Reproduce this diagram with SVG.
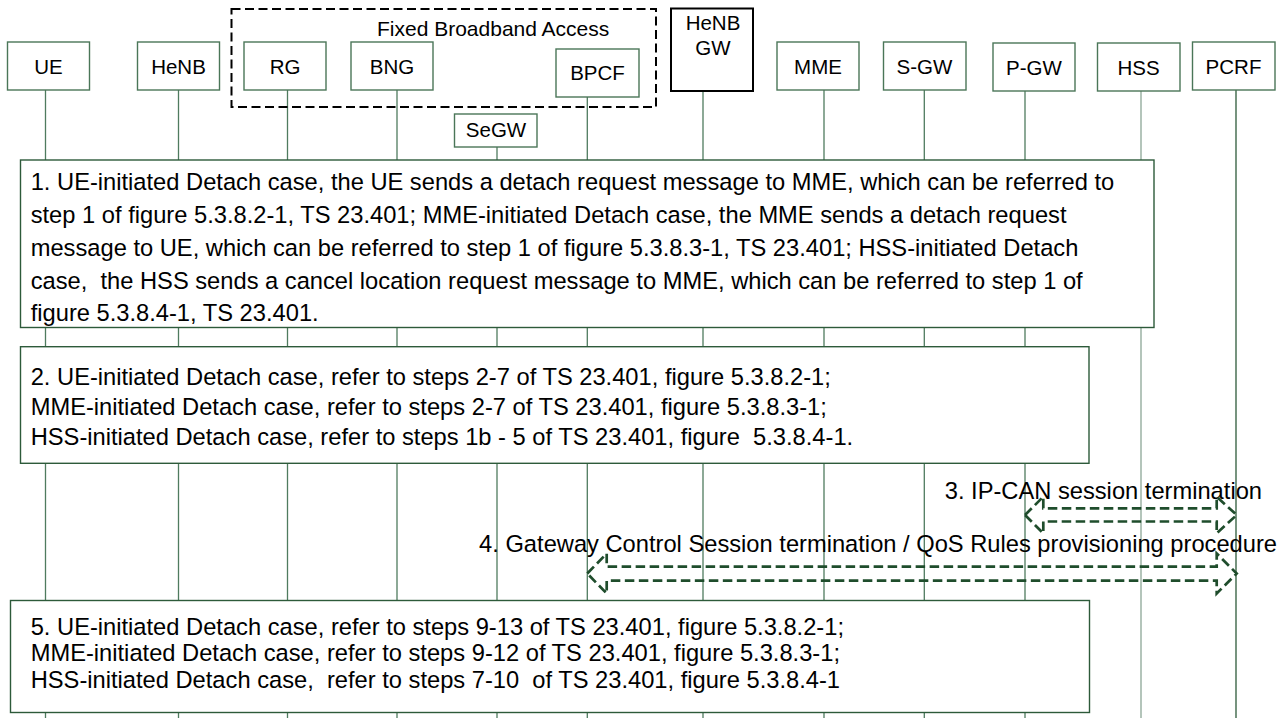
<svg xmlns="http://www.w3.org/2000/svg" width="1287" height="718" viewBox="0 0 1287 718">
<style>
text{font-family:"Liberation Sans",Arial,sans-serif;fill:#000;white-space:pre}
.nl{font-size:20.5px;text-anchor:middle}
.st{font-size:23.7px}
.node{fill:#fff;stroke:#4a7658;stroke-width:1.4}
.life{stroke:#4f7b5f;stroke-width:1.3;fill:none}
.step{fill:#fff;stroke:#2d5a3a;stroke-width:1.4}
.arr{fill:none;stroke:#1f4d2c;stroke-width:2.7;stroke-dasharray:9.5 4.5;stroke-linejoin:miter}
</style>
<rect width="1287" height="718" fill="#fff"/>
<g id="lifelines">
<line class="life" x1="45.5" y1="90" x2="45.5" y2="718"/>
<line class="life" x1="178.5" y1="90" x2="178.5" y2="718"/>
<line class="life" x1="287.5" y1="90" x2="287.5" y2="718"/>
<line class="life" x1="397" y1="90" x2="397" y2="718"/>
<line class="life" x1="497" y1="147" x2="497" y2="718"/>
<line class="life" x1="587.3" y1="97" x2="587.3" y2="718"/>
<line class="life" x1="703" y1="91" x2="703" y2="718"/>
<line class="life" x1="824" y1="90" x2="824" y2="718"/>
<line class="life" x1="924.3" y1="90" x2="924.3" y2="718"/>
<line class="life" x1="1025" y1="91" x2="1025" y2="718"/>
<line class="life" x1="1141" y1="91" x2="1141" y2="718" style="stroke:#8ca696"/>
<line class="life" x1="1236" y1="90" x2="1236" y2="718" style="stroke:#2d5a3a"/>
</g>
<g id="fba">
<rect x="231.5" y="9" width="424.5" height="98" fill="none" stroke="#000" stroke-width="2" stroke-dasharray="9 4.5"/>
<text class="nl" x="377" y="36" style="text-anchor:start;font-size:21px">Fixed Broadband Access</text>
</g>
<g id="n-ue"><rect class="node" x="7.5" y="42" width="82" height="48"/><text class="nl" x="48.5" y="73.5">UE</text></g>
<g id="n-henb"><rect class="node" x="137.5" y="42" width="82" height="48"/><text class="nl" x="178.5" y="73.5">HeNB</text></g>
<g id="n-rg"><rect class="node" x="244" y="42" width="82" height="48"/><text class="nl" x="285" y="73.5">RG</text></g>
<g id="n-bng"><rect class="node" x="351" y="42" width="82" height="48"/><text class="nl" x="392" y="73.5">BNG</text></g>
<g id="n-bpcf"><rect class="node" x="556" y="49" width="83" height="48"/><text class="nl" x="597.5" y="80">BPCF</text></g>
<g id="n-segw"><rect class="node" x="454.5" y="114" width="82.5" height="33"/><text class="nl" x="496" y="136.5">SeGW</text></g>
<g id="n-henbgw"><rect x="671" y="8.5" width="82" height="82.5" fill="#fff" stroke="#000" stroke-width="2"/><text class="nl" x="713" y="29.5">HeNB</text><text class="nl" x="713" y="55">GW</text></g>
<g id="n-mme"><rect class="node" x="777" y="42" width="82" height="48"/><text class="nl" x="818" y="73.5">MME</text></g>
<g id="n-sgw"><rect class="node" x="883.5" y="42" width="82.5" height="48"/><text class="nl" x="924.5" y="73.5">S-GW</text></g>
<g id="n-pgw"><rect class="node" x="993" y="43" width="82" height="48"/><text class="nl" x="1034" y="74.5">P-GW</text></g>
<g id="n-hss"><rect class="node" x="1097.5" y="43" width="82.5" height="48"/><text class="nl" x="1138.5" y="74.5">HSS</text></g>
<g id="n-pcrf"><rect class="node" x="1192.5" y="42" width="82.5" height="48"/><text class="nl" x="1233.5" y="73.5">PCRF</text></g>
<g id="s1">
<rect class="step" x="20.5" y="160" width="1133.5" height="167.5"/>
<text class="st" x="30.7" y="189.8">1. UE-initiated Detach case, the UE sends a detach request message to MME, which can be referred to</text>
<text class="st" x="30.7" y="222.7">step 1 of figure 5.3.8.2-1, TS 23.401; MME-initiated Detach case, the MME sends a detach request</text>
<text class="st" x="30.7" y="255.6">message to UE, which can be referred to step 1 of figure 5.3.8.3-1, TS 23.401; HSS-initiated Detach</text>
<text class="st" x="30.7" y="288.5">case,  the HSS sends a cancel location request message to MME, which can be referred to step 1 of</text>
<text class="st" x="30.7" y="321.4">figure 5.3.8.4-1, TS 23.401.</text>
</g>
<g id="s2">
<rect class="step" x="20.5" y="346.7" width="1068.5" height="116.6"/>
<text class="st" x="30.7" y="385.2">2. UE-initiated Detach case, refer to steps 2-7 of TS 23.401, figure 5.3.8.2-1;</text>
<text class="st" x="30.7" y="415.2">MME-initiated Detach case, refer to steps 2-7 of TS 23.401, figure 5.3.8.3-1;</text>
<text class="st" x="30.7" y="445.2">HSS-initiated Detach case, refer to steps 1b - 5 of TS 23.401, figure  5.3.8.4-1.</text>
</g>
<g id="s5">
<rect class="step" x="10.5" y="600.5" width="1079" height="112"/>
<text class="st" x="30.7" y="634.5">5. UE-initiated Detach case, refer to steps 9-13 of TS 23.401, figure 5.3.8.2-1;</text>
<text class="st" x="30.7" y="661">MME-initiated Detach case, refer to steps 9-12 of TS 23.401, figure 5.3.8.3-1;</text>
<text class="st" x="30.7" y="687.5">HSS-initiated Detach case,  refer to steps 7-10  of TS 23.401, figure 5.3.8.4-1</text>
</g>
<g id="connectors">
<text class="st" x="1262" y="498.5" style="text-anchor:end">3. IP-CAN session termination</text>
<path class="arr" d="M1025,515 L1043.3,496.7 L1043.3,508.3 L1216.7,508.3 L1216.7,496.7 L1236.7,515 L1216.7,533.3 L1216.7,521.5 L1043.3,521.5 L1043.3,533.3 Z"/>
<text class="st" x="1277" y="551.5" style="text-anchor:end">4. Gateway Control Session termination / QoS Rules provisioning procedure</text>
<path class="arr" d="M587.3,573.5 L606.7,553.5 L606.7,566.7 L1216.7,566.7 L1216.7,553.5 L1236.7,573.5 L1216.7,593.5 L1216.7,580.7 L606.7,580.7 L606.7,593.5 Z"/>
</g>
</svg>
